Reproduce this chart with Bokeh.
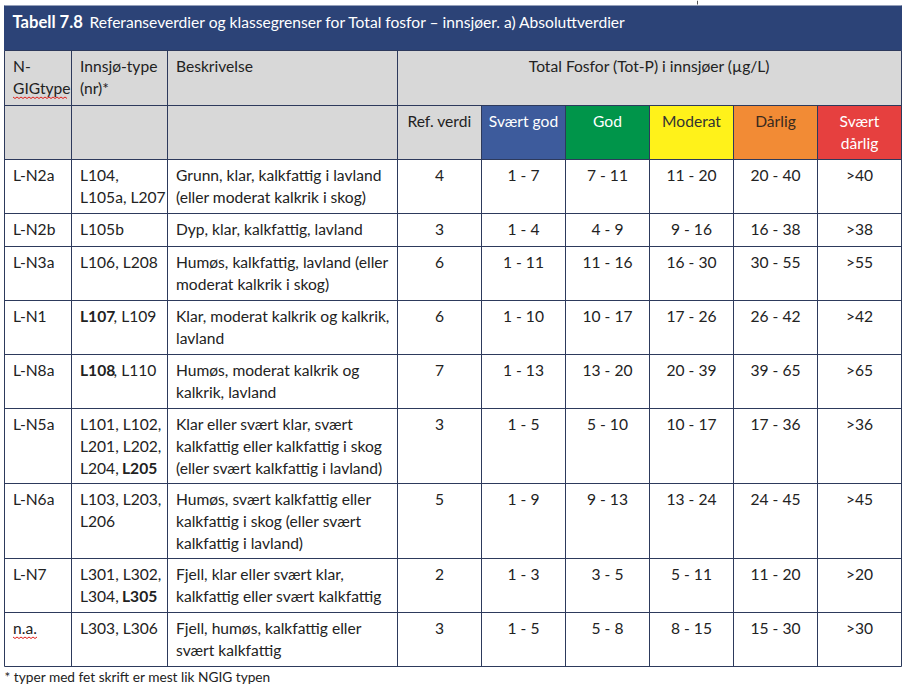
from bokeh.plotting import figure
from bokeh.models import Range1d, ColumnDataSource
from bokeh.core.properties import value
from bokeh.embed import file_html
from bokeh.resources import INLINE

# ---------------- data ----------------
title_bold = "Tabell 7.8"
title_rest = "Referanseverdier og klassegrenser for Total fosfor – innsjøer. a) Absoluttverdier"
param_header = "Total Fosfor (Tot-P) i innsjøer (µg/L)"
left_headers = [["N-", "GIGtype"], ["Innsjø-type", "(nr)*"], ["Beskrivelse"]]
class_headers = [["Ref. verdi"], ["Svært god"], ["God"], ["Moderat"], ["Dårlig"], ["Svært", "dårlig"]]

ngig_types = ["L-N2a", "L-N2b", "L-N3a", "L-N1", "L-N8a", "L-N5a", "L-N6a", "L-N7", "n.a."]
# *...* marks bold parts
lake_types = [
    ["L104,", "L105a, L207"],
    ["L105b"],
    ["L106, L208"],
    ["*L107*, L109"],
    ["*L108*, L110"],
    ["L101, L102,", "L201, L202,", "L204, *L205*"],
    ["L103, L203,", "L206"],
    ["L301, L302,", "L304, *L305*"],
    ["L303, L306"],
]
descriptions = [
    ["Grunn, klar, kalkfattig i lavland", "(eller moderat kalkrik i skog)"],
    ["Dyp, klar, kalkfattig, lavland"],
    ["Humøs, kalkfattig, lavland (eller", "moderat kalkrik i skog)"],
    ["Klar, moderat kalkrik og kalkrik,", "lavland"],
    ["Humøs, moderat kalkrik og", "kalkrik, lavland"],
    ["Klar eller svært klar, svært", "kalkfattig eller kalkfattig i skog", "(eller svært kalkfattig i lavland)"],
    ["Humøs, svært kalkfattig eller", "kalkfattig i skog (eller svært", "kalkfattig i lavland)"],
    ["Fjell, klar eller svært klar,", "kalkfattig eller svært kalkfattig"],
    ["Fjell, humøs, kalkfattig eller", "svært kalkfattig"],
]
ref_values = [4, 3, 6, 6, 7, 3, 5, 2, 3]
svaert_god_lower = [1, 1, 1, 1, 1, 1, 1, 1, 1]
svaert_god_upper = [7, 4, 11, 10, 13, 5, 9, 3, 5]
god_upper = [11, 9, 16, 17, 20, 10, 13, 5, 8]
moderat_upper = [20, 16, 30, 26, 39, 17, 24, 11, 15]
darlig_upper = [40, 38, 55, 42, 65, 36, 45, 20, 30]
footnote = "* typer med fet skrift er mest lik NGIG typen"
misspelled = ["GIGtype", "n.a."]

# ---------------- style ----------------
FONT = "Lato"
FS = "15.6px"
NAVY = "#2C4377"
GRID = "#2D3A5C"
GRAY = "#D8D8D8"
TXT = "#222222"
class_fill = [GRAY, "#3D5B9C", "#00954A", "#FFF21A", "#F28B35", "#E6403F"]
class_txt = [TXT, "#FFFFFF", "#FFFFFF", "#333333", "#3A2A1E", "#FFFFFF"]

col_edges = [4, 71, 167, 397, 481, 565, 649, 733, 817, 901]
PAD = 8.5
BANNER = (5, 50)
H1 = (50, 105)
H2 = (105, 159)
FIRST_OFF = 15.5
LINE = 22

W, H = 906, 686
X0, Y0 = 0, 0
p = figure(width=W, height=H, x_range=Range1d(X0, X0 + W), y_range=Range1d(Y0 + H, Y0),
           output_backend="svg", toolbar_location=None, min_border=0,
           x_axis_location=None, y_axis_location=None)
p.outline_line_color = None
p.grid.visible = False
p.background_fill_color = "white"

# row geometry from data
nlines = [max(len(a), len(b)) for a, b in zip(lake_types, descriptions)]
row_tops = [H2[1]]
for n in nlines:
    row_tops.append(row_tops[-1] + 12 + 21 * n)
table_bottom = row_tops[-1]

# ---------------- fills ----------------
p.quad(left=[col_edges[0]], right=[col_edges[-1]], top=[BANNER[0]], bottom=[BANNER[1]],
       fill_color=NAVY, line_color=None)
p.quad(left=[col_edges[0]], right=[col_edges[-1]], top=[H1[0]], bottom=[H2[1]],
       fill_color=GRAY, line_color=None)
p.quad(left=col_edges[3:9], right=col_edges[4:10], top=[H2[0]] * 6, bottom=[H2[1]] * 6,
       fill_color=class_fill, line_color=None)

# ---------------- grid lines ----------------
x0s, y0s, x1s, y1s = [], [], [], []
for y in [H1[0], H2[0]] + row_tops:
    x0s.append(col_edges[0]); x1s.append(col_edges[-1]); y0s.append(y); y1s.append(y)
for i, x in enumerate(col_edges):
    top = H2[0] if 4 <= i <= 8 else H1[0]
    x0s.append(x); x1s.append(x); y0s.append(top); y1s.append(table_bottom)
p.segment(x0=x0s, y0=y0s, x1=x1s, y1=y1s, line_color=GRID, line_width=1)
p.segment(x0=[col_edges[0], col_edges[-1]], y0=[BANNER[0]] * 2, x1=[col_edges[0], col_edges[-1]],
          y1=[BANNER[1]] * 2, line_color=NAVY, line_width=1)
p.segment(x0=[697], y0=[0], x1=[697], y1=[4], line_color="#555555", line_width=1)

# ---------------- texts ----------------
groups = {}


def add(x, y, t, align="left", color=TXT, bold=False, size=FS):
    key = (align, bold, size)
    g = groups.setdefault(key, dict(x=[], y=[], t=[], c=[]))
    g["x"].append(x); g["y"].append(y); g["t"].append(t); g["c"].append(color)


def add_rich(x, y, s):
    parts = s.split("*")
    cx = x
    for k, part in enumerate(parts):
        if not part:
            continue
        bold = (k % 2 == 1)
        add(cx, y, part, bold=bold)
        cx += len(part) * (8.4 if bold else 7.0)


# title
add(12, 21.5, title_bold, color="white", bold=True, size="16.6px")
add(89, 21.5, title_rest, color="white")

# header row 1
for ci, lines in enumerate(left_headers):
    for li, t in enumerate(lines):
        add(col_edges[ci] + PAD, H1[0] + FIRST_OFF + li * LINE, t)
add((col_edges[3] + col_edges[-1]) / 2, H1[0] + FIRST_OFF, param_header, align="center")

# header row 2
for k, lines in enumerate(class_headers):
    cx = (col_edges[3 + k] + col_edges[4 + k]) / 2
    for li, t in enumerate(lines):
        add(cx, H2[0] + FIRST_OFF + li * LINE, t, align="center", color=class_txt[k])

# body
for r in range(len(ngig_types)):
    top = row_tops[r]
    y1 = top + FIRST_OFF
    add(col_edges[0] + PAD, y1, ngig_types[r])
    for li, t in enumerate(lake_types[r]):
        add_rich(col_edges[1] + PAD, y1 + li * LINE, t)
    for li, t in enumerate(descriptions[r]):
        add(col_edges[2] + PAD, y1 + li * LINE, t)
    vals = [str(ref_values[r]),
            f"{svaert_god_lower[r]} - {svaert_god_upper[r]}",
            f"{svaert_god_upper[r]} - {god_upper[r]}",
            f"{god_upper[r]} - {moderat_upper[r]}",
            f"{moderat_upper[r]} - {darlig_upper[r]}",
            f">{darlig_upper[r]}"]
    for k, v in enumerate(vals):
        add((col_edges[3 + k] + col_edges[4 + k]) / 2, y1, v, align="center")

# footnote
add(4, table_bottom + 10, footnote, size="13.7px")

for (align, bold, size), g in groups.items():
    src = ColumnDataSource(g)
    p.text(x="x", y="y", text="t", source=src, text_color="c", text_align=align,
           text_baseline="middle", text_font=value(FONT), text_font_size=size,
           text_font_style="bold" if bold else "normal")

# spell-check wavy underlines
wx, wy = [], []
for word, (xs, ye) in zip(misspelled, [(col_edges[0] + PAD, H1[0] + FIRST_OFF + LINE + 9.5),
                                        (col_edges[0] + PAD, row_tops[-2] + FIRST_OFF + 9.5)]):
    length = sum(3.5 if c in ".,ilI" else 8.5 for c in word)
    pts_x, pts_y = [], []
    n = int(length / 2)
    for i in range(n + 1):
        pts_x.append(xs + i * 2)
        pts_y.append(ye + (1 if i % 2 else -0.5))
    wx.append(pts_x); wy.append(pts_y)
p.multi_line(xs=wx, ys=wy, line_color="#E0201B", line_width=1)

open("out.html", "w").write(file_html(p, INLINE))
